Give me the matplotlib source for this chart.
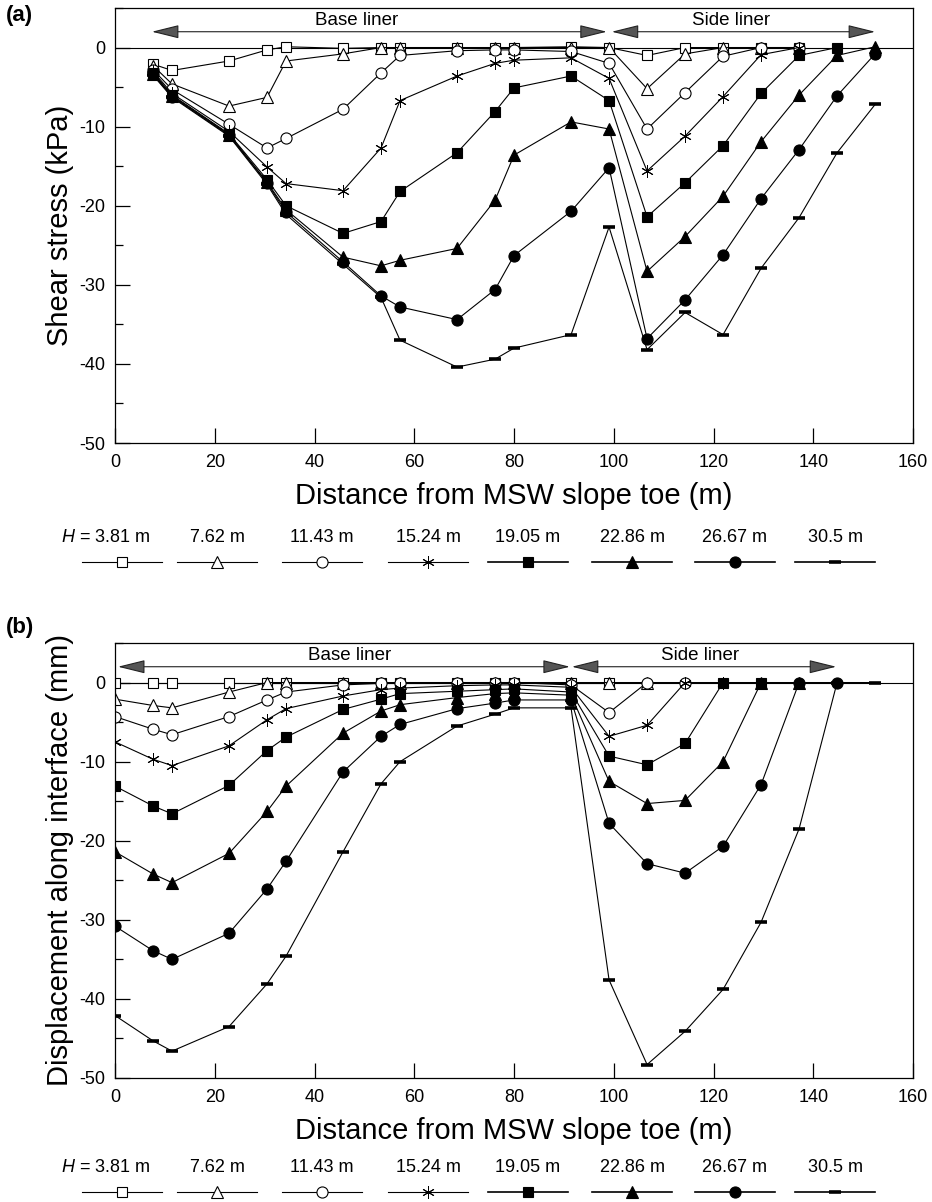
import matplotlib
matplotlib.use('Agg')
import matplotlib.pyplot as plt
from matplotlib.lines import Line2D
from matplotlib.ticker import MultipleLocator

plt.rcParams['font.family'] = ['Liberation Sans', 'DejaVu Sans']
plt.rcParams['axes.unicode_minus'] = False
plt.rcParams['mathtext.fontset'] = 'custom'
plt.rcParams['mathtext.it'] = 'Liberation Sans:italic'
plt.rcParams['mathtext.rm'] = 'Liberation Sans'

# ---------------- data ----------------
legend_labels = ['$H$ = 3.81 m', '7.62 m', '11.43 m', '15.24 m',
                 '19.05 m', '22.86 m', '26.67 m', '30.5 m']

x_a = [7.62, 11.43, 22.86, 30.48, 34.29, 45.72, 53.34, 57.15, 68.58, 76.20,
       80.01, 91.44, 99.06, 106.68, 114.30, 121.92, 129.54, 137.16, 144.78, 152.40]

shear_381 = [-2.1, -2.9, -1.7, -0.3, 0.1, -0.1, 0.0, 0.0, 0.0, 0.0, 0.0, 0.1,
             0.0, -1.0, 0.0, 0.0, 0.0, 0.0]
shear_762 = [-2.3, -4.6, -7.4, -6.3, -1.7, -0.8, 0.0, 0.0, 0.0, 0.0, 0.0, 0.0,
             0.0, -5.2, -0.8, 0.0, 0.0, 0.0]
shear_1143 = [-2.8, -5.3, -9.7, -12.7, -11.5, -7.8, -3.2, -1.0, -0.4, -0.3, -0.3,
              -0.5, -2.0, -10.3, -5.7, -1.1, 0.0, 0.0]
shear_1524 = [-3.0, -5.8, -10.6, -15.1, -17.2, -18.1, -12.7, -6.7, -3.6, -2.0, -1.6,
              -1.3, -3.9, -15.6, -11.2, -6.2, -0.9, 0.0]
shear_1905 = [-3.2, -6.0, -10.9, -16.7, -20.0, -23.5, -22.0, -18.2, -13.3, -8.1, -5.1,
              -3.6, -6.7, -21.4, -17.1, -12.4, -5.8, -1.0, 0.0]
shear_2286 = [-3.3, -6.1, -11.0, -17.0, -20.5, -26.5, -27.6, -26.9, -25.4, -19.3, -13.6,
              -9.4, -10.3, -28.3, -23.9, -18.8, -11.9, -6.0, -1.0, 0.1]
shear_2667 = [-3.4, -6.2, -11.1, -17.1, -20.8, -27.1, -31.4, -32.8, -34.4, -30.6, -26.3,
              -20.7, -15.2, -36.8, -31.9, -26.2, -19.1, -12.9, -6.1, -0.8]
shear_305 = [-3.5, -6.3, -11.2, -17.3, -21.1, -27.4, -31.6, -37.0, -40.4, -39.4, -38.0,
             -36.3, -22.7, -38.2, -33.5, -36.3, -27.9, -21.5, -13.3, -7.2]

x_b = [0.0, 7.62, 11.43, 22.86, 30.48, 34.29, 45.72, 53.34, 57.15, 68.58, 76.20,
       80.01, 91.44, 99.06, 106.68, 114.30, 121.92, 129.54, 137.16, 144.78, 152.40]

disp_381 = [0.0, 0.0, 0.0, 0.0, 0.0, 0.0, 0.0, 0.0, 0.0, 0.0, 0.0, 0.0, 0.0, 0.0]
disp_762 = [-2.1, -2.9, -3.2, -1.2, 0.0, 0.0, 0.0, 0.0, 0.0, 0.0, 0.0, 0.0, 0.0,
            0.0, 0.0]
disp_1143 = [-4.3, -5.9, -6.6, -4.3, -2.2, -1.2, -0.3, -0.1, 0.0, 0.0, 0.0, 0.0,
             -0.3, -3.8, 0.0, 0.0]
disp_1524 = [-7.5, -9.7, -10.5, -8.0, -4.7, -3.3, -1.7, -0.9, -0.7, -0.4, -0.3, -0.3,
             -0.6, -6.8, -5.4, 0.0, 0.0]
disp_1905 = [-13.1, -15.6, -16.6, -13.0, -8.6, -6.9, -3.4, -2.1, -1.4, -1.1, -0.9, -0.8,
             -1.2, -9.3, -10.4, -7.7, 0.0, 0.0]
disp_2286 = [-21.4, -24.2, -25.3, -21.6, -16.3, -13.1, -6.4, -3.6, -2.8, -1.9, -1.4, -1.3,
             -1.6, -12.5, -15.3, -14.9, -10.0, 0.0, 0.0]
disp_2667 = [-30.8, -33.9, -35.0, -31.7, -26.1, -22.6, -11.3, -6.8, -5.3, -3.3, -2.6, -2.2,
             -2.2, -17.8, -22.9, -24.1, -20.7, -12.9, 0.0, 0.0]
disp_305 = [-42.1, -45.3, -46.6, -43.5, -38.1, -34.6, -21.4, -12.8, -10.0, -5.5, -4.0, -3.2,
            -3.2, -37.6, -48.3, -44.1, -38.8, -30.3, -18.5, 0.0, 0.0]

shear_series = [shear_381, shear_762, shear_1143, shear_1524,
                shear_1905, shear_2286, shear_2667, shear_305]
disp_series = [disp_381, disp_762, disp_1143, disp_1524,
               disp_1905, disp_2286, disp_2667, disp_305]

# liner arrows (data extents) and labels
arrows_a = [(7.4, 98.6), (99.6, 152.4)]
arrows_b = [(0.6, 91.2), (91.6, 144.6)]
liner_labels = ['Base liner', 'Side liner']
label_x_a = [48.4, 123.6]
label_x_b = [47.0, 117.4]

# ---------------- styles ----------------
styles = [
    dict(marker='s', ms=7.2, mfc='white', mec='black', mew=0.8),
    dict(marker='^', ms=8.5, mfc='white', mec='black', mew=0.8),
    dict(marker='o', ms=8.0, mfc='white', mec='black', mew=0.8),
    dict(marker=(6, 2, 0), ms=9.0, mfc='black', mec='black', mew=0.7),
    dict(marker='s', ms=7.2, mfc='black', mec='black', mew=0.8),
    dict(marker='^', ms=8.5, mfc='black', mec='black', mew=0.8),
    dict(marker='o', ms=8.0, mfc='black', mec='black', mew=0.8),
    dict(marker='_', ms=9.0, mfc='black', mec='black', mew=2.6),
]
legend_lw = [0.8, 0.8, 0.8, 0.8, 1.2, 1.2, 1.2, 1.2]

W, H = 932, 1202
fig = plt.figure(figsize=(W / 100, H / 100), dpi=100)


def fx(px):
    return px / W


def fy(py):
    return 1 - py / H


def make_axes(top_px, bottom_px):
    ax = fig.add_axes([fx(115), fy(bottom_px), fx(913) - fx(115),
                       (bottom_px - top_px) / H])
    ax.set_xlim(0, 160)
    ax.set_ylim(-50, 5)
    ax.xaxis.set_major_locator(MultipleLocator(20))
    ax.yaxis.set_major_locator(MultipleLocator(10))
    ax.yaxis.set_minor_locator(MultipleLocator(5))
    ax.tick_params(which='both', direction='in', top=False, right=False,
                   labelsize=13, width=0.9)
    ax.tick_params(axis='x', which='major', length=11, pad=8)
    ax.tick_params(axis='y', which='major', length=11, pad=7)
    ax.tick_params(axis='y', which='minor', length=6)
    for s in ax.spines.values():
        s.set_linewidth(0.9)
    ax.axhline(0, color='black', lw=0.8, zorder=1)
    return ax


def draw_series(ax, xs, series):
    for ser, st in zip(series, styles):
        ax.plot(xs[:len(ser)], ser, color='black', lw=0.8, zorder=2, **st)


def draw_liners(ax, arrows, label_xs):
    for (x0, x1), lab, lx in zip(arrows, liner_labels, label_xs):
        ax.annotate('', xy=(x1, 2.0), xytext=(x0, 2.0),
                    arrowprops=dict(arrowstyle='<|-|>,head_length=1.7,head_width=0.42',
                                    mutation_scale=10, fc='#555555', ec='#222222',
                                    lw=0.8, shrinkA=0, shrinkB=0), zorder=3)
        ax.text(lx, 3.45, lab, ha='center', va='center', fontsize=13.5)


leg_x = [122, 217, 322, 428, 528, 632, 735, 835]


def draw_legend(y_text, y_sym):
    for i, (lab, st) in enumerate(zip(legend_labels, styles)):
        cx = leg_x[i]
        if i == 0:
            fig.text(fx(cx + 28), fy(y_text), lab, ha='right', va='center', fontsize=13)
        else:
            fig.text(fx(cx), fy(y_text), lab, ha='center', va='center', fontsize=13)
        fig.add_artist(Line2D([fx(cx - 40), fx(cx + 40)], [fy(y_sym), fy(y_sym)],
                              color='black', lw=legend_lw[i], transform=fig.transFigure))
        fig.add_artist(Line2D([fx(cx)], [fy(y_sym)], color='black', lw=0,
                              transform=fig.transFigure, **st))


# ---------------- panel (a) ----------------
ax_a = make_axes(8, 443)
draw_series(ax_a, x_a, shear_series)
draw_liners(ax_a, arrows_a, label_x_a)
ax_a.set_xlabel('Distance from MSW slope toe (m)', fontsize=21, labelpad=8)
ax_a.set_ylabel('Shear stress (kPa)', fontsize=21, labelpad=4)
fig.text(fx(6), fy(16), '(a)', fontsize=16, fontweight='bold', ha='left', va='center')
draw_legend(537, 562)

# ---------------- panel (b) ----------------
ax_b = make_axes(643, 1078)
draw_series(ax_b, x_b, disp_series)
draw_liners(ax_b, arrows_b, label_x_b)
ax_b.set_xlabel('Distance from MSW slope toe (m)', fontsize=21, labelpad=8)
ax_b.set_ylabel('Displacement along interface (mm)', fontsize=21, labelpad=4)
fig.text(fx(6), fy(627), '(b)', fontsize=16, fontweight='bold', ha='left', va='center')
draw_legend(1167, 1192)

fig.savefig('out.png', dpi=100)
